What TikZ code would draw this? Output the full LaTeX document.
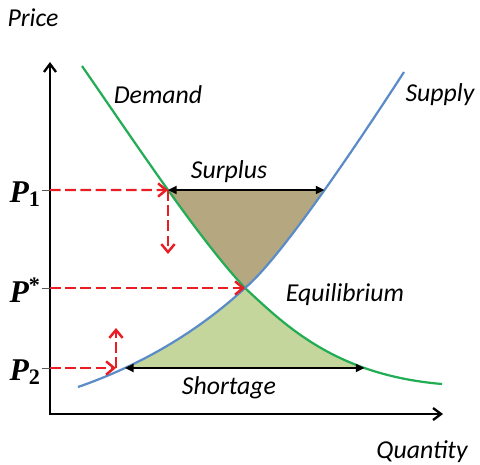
\documentclass[tikz,border=0pt]{standalone}
\usepackage{fontspec}
\setsansfont{Carlito}
\newfontfamily\pfont{Liberation Serif}
\usetikzlibrary{arrows.meta,calc,intersections}
\definecolor{DemandGreen}{RGB}{34,172,84}
\definecolor{SupplyBlue}{RGB}{92,140,200}
\definecolor{SurplusFill}{RGB}{181,168,128}
\definecolor{ShortageFill}{RGB}{196,214,156}
\definecolor{GuideRed}{RGB}{232,30,36}

\newcommand{\demandcurve}{(82,66) .. controls (140,150) and (200,240) .. (245,288) .. controls (285,325) and (335,375) .. (442,384)}
\newcommand{\supplycurve}{(78,387) .. controls (150,362) and (205,325) .. (245,288) .. controls (281,258) and (360,140) .. (404,72)}

\begin{document}
\begin{tikzpicture}[
    x=0.03cm,y=-0.03cm,
    font=\fontsize{22}{26}\selectfont\sffamily\itshape,
    axis/.style={line width=2pt,{Straight Barb[length=2.4mm,width=3.6mm]}-{Straight Barb[length=2.4mm,width=3.6mm]}},
    curve/.style={line width=1.9pt},
    guide/.style={dashed,dash pattern=on 9pt off 4pt,line width=2.1pt,GuideRed,-{Straight Barb[length=2.4mm,width=4mm]}},
    gap/.style={line width=1.6pt,{Triangle[length=2.6mm,width=2.4mm]}-{Triangle[length=2.6mm,width=2.4mm]}},
    plabel/.style={font=\fontsize{27}{30}\selectfont\pfont\bfseries\itshape,anchor=east,inner sep=1pt}
  ]
    \useasboundingbox (0,0) rectangle (480,464);

    % shaded areas
    \begin{scope}
      \clip \demandcurve -- (480,384) -- (480,0) -- (82,0) -- cycle;
      \clip \supplycurve -- (404,0) -- (0,0) -- (0,387) -- cycle;
      \fill[SurplusFill] (0,190) rectangle (480,288);
    \end{scope}
    \begin{scope}
      \clip \demandcurve -- (442,464) -- (0,464) -- (0,66) -- cycle;
      \clip \supplycurve -- (480,72) -- (480,464) -- (78,464) -- cycle;
      \fill[ShortageFill] (0,288) rectangle (480,368);
    \end{scope}

    % axes
    \coordinate (origin) at (50,414);
    \coordinate (ytop) at (50,62);
    \coordinate (xend) at (443,414);
    \draw[axis] (ytop) |- (xend);

    \draw[curve,DemandGreen,name path=demand] \demandcurve;
    \draw[curve,SupplyBlue,name path=supply] \supplycurve;

    \path[name path=uppr] (50,190) -- (470,190);
    \path[name path=lowr] (50,368) -- (470,368);
    \path[name intersections={of=demand and uppr,by=d1}];
    \path[name intersections={of=supply and uppr,by=s1}];
    \path[name intersections={of=demand and lowr,by=d2}];
    \path[name intersections={of=supply and lowr,by=s2}];
    \coordinate (eq) at (245,288);

    % price levels
    \coordinate (a1) at (50,190);
    \coordinate (astar) at (50,288);
    \coordinate (a2) at (50,368);
    \foreach \p in {a1,astar,a2}
      \draw[gray!70!black,line width=0.6pt] (\p) -- ++(-8,0);
    \node[plabel] (p1) at (42,194) {P\textsubscript{\textup{1}}};
    \node[plabel] (pstar) at (42,290) {P\textsuperscript{\textup{*}}};
    \node[plabel] (p2) at (42,372) {P\textsubscript{\textup{2}}};

    \draw[guide] (a1) -- (d1);
    \coordinate (d1drop) at ($(d1)+(0,64)$);
    \draw[guide] (d1) -- (d1drop);
    \draw[guide] (astar) -- (eq);
    \coordinate (q2) at (116,368);
    \coordinate (q2up) at (116,328);
    \draw[guide] (a2) -- (q2);
    \draw[guide] (q2) -- (q2up);

    \draw[gap] (d1) -- (s1);
    \draw[gap] (s2) -- (d2);

    \node (price) at (33,18) {Price};
    \node (quantity) at (422,452) {Quantity};
    \node (dem) at (158,95) {Demand};
    \node (sup) at (440,95) {Supply};
    \node (surplus) at (229,172) {Surplus};
    \node (equil) at (345,295) {Equilibrium};
    \node (shortage) at (229,388) {Shortage};
  \end{tikzpicture}
\end{document}
